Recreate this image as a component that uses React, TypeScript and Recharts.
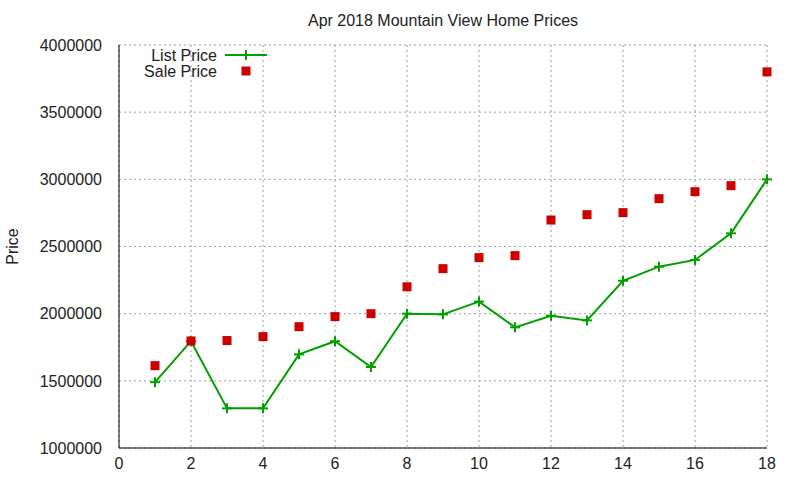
import {
  CartesianGrid,
  ComposedChart,
  Line,
  Scatter,
  XAxis,
  YAxis,
} from "recharts";

const days = [1, 2, 3, 4, 5, 6, 7, 8, 9, 10, 11, 12, 13, 14, 15, 16, 17, 18];
const listPrice = [
  1490000, 1795000, 1295000, 1295000, 1697000, 1795000, 1603000, 2000000, 1995000,
  2090000, 1898000, 1985000, 1950000, 2245000, 2350000, 2400000, 2598000, 3000000,
];
const salePrice = [
  1613000, 1797000, 1800000, 1829000, 1903000, 1978000, 2000000, 2200000, 2335000,
  2417000, 2432000, 2697000, 2737000, 2752000, 2856000, 2908000, 2953000, 3800000,
];
const xTicks = [0, 2, 4, 6, 8, 10, 12, 14, 16, 18];
const yTicks = [1000000, 1500000, 2000000, 2500000, 3000000, 3500000, 4000000];
const seriesNames = ["List Price", "Sale Price"];

const GREEN = "#00a000";
const RED = "#cc0000";
const FONT = "'Liberation Sans', Arial, sans-serif";
const xDomain: [number, number] = [0, 18];
const yDomain: [number, number] = [1000000, 4000000];

const data = days.map((d, i) => ({ day: d, list: listPrice[i], sale: salePrice[i] }));

function PlusDot(props: any) {
  const { cx, cy } = props;
  if (cx == null || cy == null) return null;
  return (
    <g stroke={GREEN} strokeWidth={2}>
      <line x1={cx - 5} x2={cx + 5} y1={cy} y2={cy} />
      <line x1={cx} x2={cx} y1={cy - 5} y2={cy + 5} />
    </g>
  );
}

function SquareDot(props: any) {
  const { cx, cy } = props;
  if (cx == null || cy == null) return null;
  return <rect x={cx - 4.5} y={cy - 4.5} width={9} height={9} fill={RED} />;
}

const noLabel = () => <g />;

// gnuplot-style key in the top-left corner of the plot
function KeyBox() {
  return (
    <svg
      width={160}
      height={36}
      style={{ position: "absolute", left: 117, top: 47, fontFamily: FONT, fontSize: 16 }}
    >
      <text x={100} y={14} textAnchor="end" fill="#222">{seriesNames[0]}</text>
      <line x1={108} x2={150} y1={8} y2={8} stroke={GREEN} strokeWidth={2} />
      <PlusDot cx={129} cy={8} />
      <text x={100} y={30} textAnchor="end" fill="#222">{seriesNames[1]}</text>
      <SquareDot cx={129} cy={24} />
    </svg>
  );
}

export default function App() {
  return (
    <div style={{ position: "fixed", left: 0, top: 0, width: 800, height: 480, background: "#fff" }}>
      <div
        style={{
          position: "absolute",
          top: 12,
          left: 119,
          width: 648,
          textAlign: "center",
          fontFamily: FONT,
          fontSize: 16,
          color: "#222",
        }}
      >
        Apr 2018 Mountain View Home Prices
      </div>
      <ComposedChart
        width={800}
        height={480}
        data={data}
        margin={{ top: 45, right: 33, bottom: 7, left: 0 }}
      >
        <CartesianGrid stroke="#a0a0a0" strokeDasharray="2 3" />
        {/* inward tick marks on all four sides */}
        <XAxis
          xAxisId="bottomTicks"
          type="number"
          domain={xDomain}
          ticks={xTicks}
          height={0}
          mirror
          axisLine={false}
          tickSize={5}
          tickLine={{ stroke: "#000" }}
          tick={noLabel}
        />
        <XAxis
          dataKey="day"
          type="number"
          domain={xDomain}
          ticks={xTicks}
          height={25}
          tickLine={false}
          tickMargin={4}
          stroke="#000"
          tick={{ fill: "#222", fontSize: 16, fontFamily: FONT }}
        />
        <XAxis
          xAxisId="top"
          orientation="top"
          type="number"
          domain={xDomain}
          ticks={xTicks}
          height={0}
          mirror
          tickSize={5}
          tickLine={{ stroke: "#000" }}
          tick={noLabel}
          stroke="#000"
        />
        <YAxis
          yAxisId="leftTicks"
          type="number"
          domain={yDomain}
          ticks={yTicks}
          width={0}
          mirror
          axisLine={false}
          tickSize={5}
          tickLine={{ stroke: "#000" }}
          tick={noLabel}
        />
        <YAxis
          type="number"
          domain={yDomain}
          ticks={yTicks}
          width={119}
          tickLine={false}
          tickMargin={11}
          stroke="#000"
          tick={{ fill: "#222", fontSize: 16, fontFamily: FONT }}
          label={{
            value: "Price",
            angle: -90,
            position: "insideLeft",
            offset: 12,
            style: { fill: "#222", fontSize: 16, fontFamily: FONT, textAnchor: "middle" },
          }}
        />
        <YAxis
          yAxisId="right"
          orientation="right"
          type="number"
          domain={yDomain}
          ticks={yTicks}
          width={0}
          mirror
          tickSize={5}
          tickLine={{ stroke: "#000" }}
          tick={noLabel}
          stroke="#000"
        />
        <Line
          dataKey="list"
          name={seriesNames[0]}
          stroke={GREEN}
          strokeWidth={2}
          dot={<PlusDot />}
          activeDot={false}
          isAnimationActive={false}
        />
        <Scatter
          dataKey="sale"
          name={seriesNames[1]}
          shape={<SquareDot />}
          isAnimationActive={false}
        />
      </ComposedChart>
      <KeyBox />
    </div>
  );
}
